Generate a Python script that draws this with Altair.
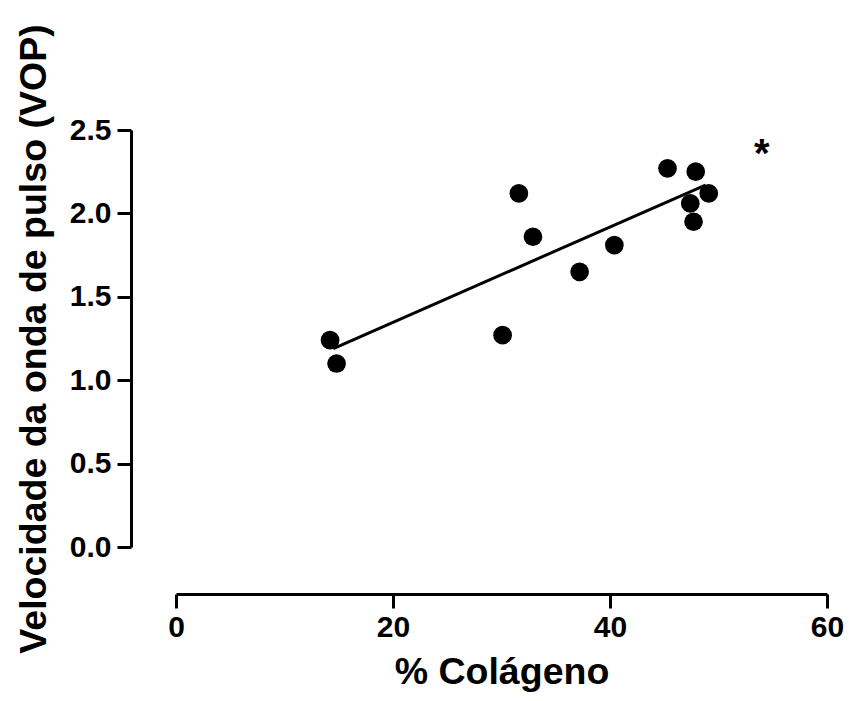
import altair as alt
import pandas as pd

# Scatter data
colageno = [14.2, 14.8, 30.1, 31.6, 32.9, 37.2, 40.4, 45.3, 47.9, 49.1, 47.4, 47.7]
vop = [1.24, 1.10, 1.27, 2.12, 1.86, 1.65, 1.81, 2.27, 2.25, 2.12, 2.06, 1.95]

# Fitted line end points
fit_x = [14.5, 48.8]
fit_y = [1.19, 2.17]

# Significance mark
star_x = [54.0]
star_y = [2.39]
star_text = ["*"]

x_ticks = [0, 20, 40, 60]
y_ticks = [0.0, 0.5, 1.0, 1.5, 2.0, 2.5]

pts = pd.DataFrame({"x": colageno, "y": vop})
fit = pd.DataFrame({"x": fit_x, "y": fit_y})
star = pd.DataFrame({"x": star_x, "y": star_y, "t": star_text})

FONT = "Liberation Sans"

xscale = alt.Scale(domain=[0, 60], nice=False, zero=False)
yscale = alt.Scale(domain=[0, 2.5], nice=False, zero=False)

xaxis = alt.Axis(
    values=x_ticks, format="d", title="% Colágeno",
    offset=47, grid=False, labelFlush=False,
    domainColor="black", domainWidth=3,
    tickColor="black", tickWidth=3, tickSize=14,
    labelFont=FONT, labelFontSize=30, labelFontWeight="bold", labelColor="black",
    labelPadding=4,
    titleFont=FONT, titleFontSize=37.5, titleFontWeight="bold", titleColor="black",
    titlePadding=11,
)
yaxis = alt.Axis(
    values=y_ticks, format=".1f", title="Velocidade da onda de pulso (VOP)",
    offset=45, grid=False, labelFlush=False,
    domainColor="black", domainWidth=3,
    tickColor="black", tickWidth=3, tickSize=14,
    labelFont=FONT, labelFontSize=30, labelFontWeight="bold", labelColor="black",
    labelPadding=6,
    titleFont=FONT, titleFontSize=37.5, titleFontWeight="bold", titleColor="black",
    titlePadding=16,
)

points = alt.Chart(pts).mark_circle(size=350, color="black", opacity=1).encode(
    x=alt.X("x:Q", scale=xscale, axis=xaxis),
    y=alt.Y("y:Q", scale=yscale, axis=yaxis),
)

line = alt.Chart(fit).mark_line(color="black", strokeWidth=3).encode(
    x=alt.X("x:Q", scale=xscale),
    y=alt.Y("y:Q", scale=yscale),
)

stars = alt.Chart(star).mark_text(
    font=FONT, fontSize=40, fontWeight="bold", color="black",
    baseline="alphabetic", align="center", dy=19,
).encode(
    x=alt.X("x:Q", scale=xscale),
    y=alt.Y("y:Q", scale=yscale),
    text="t:N",
)

chart = alt.layer(line, points, stars).properties(
    width=651,
    height=417,
    autosize=alt.AutoSizeParams(type="none"),
    padding={"left": 176, "top": 130, "right": 22, "bottom": 154},
    background="white",
).configure_view(stroke=None)

chart.save("out.html", embed_options={"renderer": "svg", "actions": False})
